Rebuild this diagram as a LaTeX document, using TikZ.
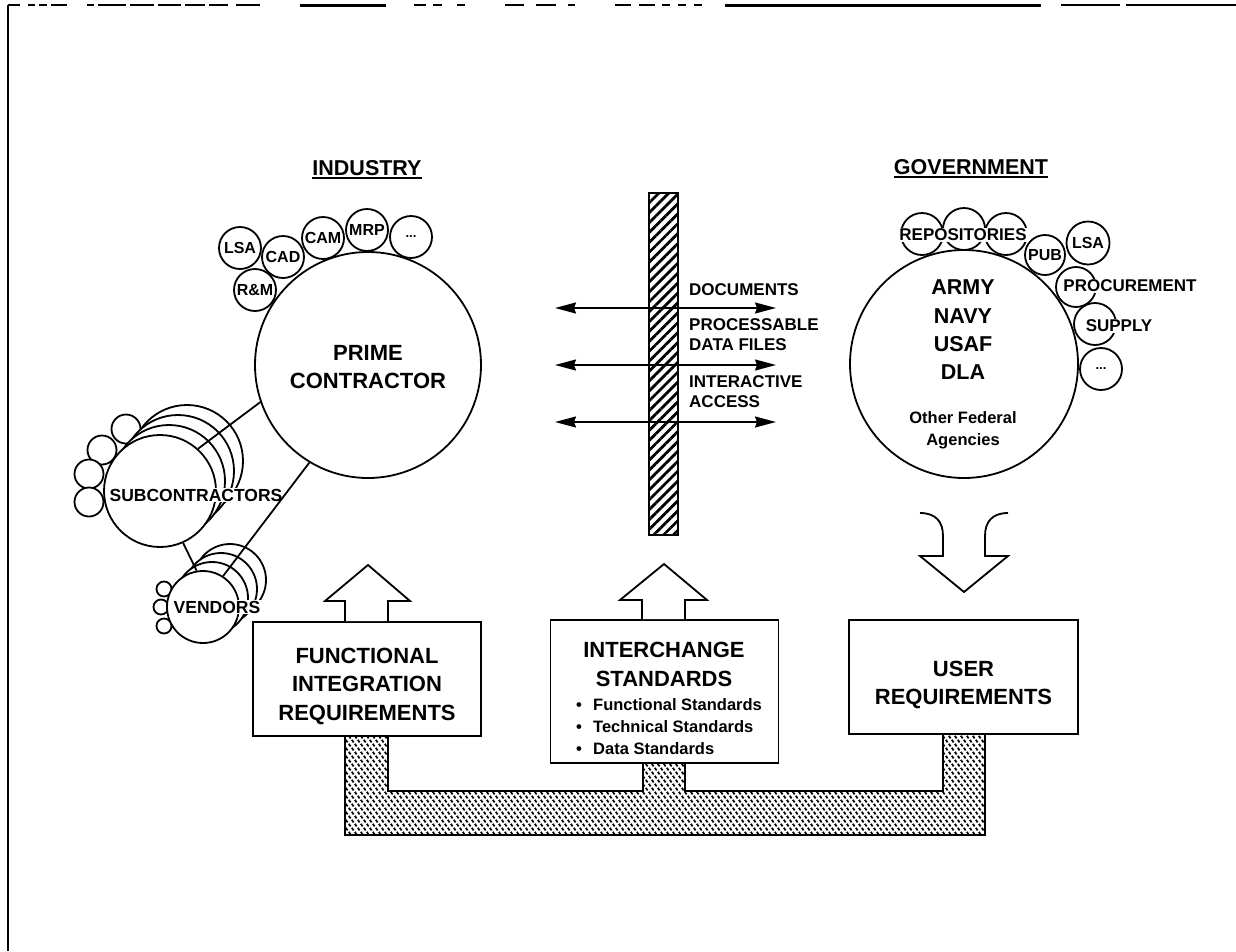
\documentclass[tikz,border=0pt]{standalone}
\usepackage{fontspec}
\setmainfont{Liberation Sans}
\usetikzlibrary{arrows.meta,patterns.meta}
\pgfdeclarepattern{
  name=weave,
  bottom left={\pgfpoint{-1pt}{-1pt}},
  top right={\pgfpoint{7pt}{9pt}},
  tile size={\pgfpoint{6pt}{8pt}},
  code={
    \pgfsetlinewidth{1.7pt}
    \pgfpathmoveto{\pgfpoint{0.8pt}{7.2pt}}
    \pgfpathlineto{\pgfpoint{2.6pt}{4.6pt}}
    \pgfpathmoveto{\pgfpoint{3.8pt}{3.2pt}}
    \pgfpathlineto{\pgfpoint{5.6pt}{0.6pt}}
    \pgfusepath{stroke}
  }
}
\begin{document}
\begin{tikzpicture}[x=1pt,y=-1pt,
  ln/.style={line width=1.8pt,line join=miter},
  circ/.style={circle,draw,line width=1.8pt,fill=white,inner sep=0pt},
  ring/.style={circle,draw,line width=1.8pt,inner sep=0pt},
  box/.style={rectangle,draw,line width=1.8pt,fill=white,inner sep=0pt},
  big/.style={font=\fontsize{22}{28.5}\selectfont\bfseries,inner sep=0pt,align=center},
  lbl/.style={font=\fontsize{17}{20}\selectfont\bfseries,inner sep=0pt},
  sml/.style={font=\fontsize{16}{19}\selectfont\bfseries},
  dots/.style={font=\fontsize{13}{14}\selectfont\bfseries},
  head/.style={font=\fontsize{21.5}{24}\selectfont\bfseries,inner sep=0pt,anchor=base},
  wlbl/.style={lbl,fill=white,inner sep=1pt},
  dbl/.style={line width=1.8pt,{Stealth[length=21pt,width=11pt,inset=2pt]}-{Stealth[length=21pt,width=11pt,inset=2pt]}},
  frame/.style={line width=2.2pt}]
\useasboundingbox (0,0) rectangle (1236,951);

% frame
\draw[frame] (8,5) -- (8,951);
\foreach \a/\b in {8/20,28/35,39/47,51/67,87/94,98/126,130/154,158/181,185/205,209/228,236/260,414/426,433/442,457/465,505/524,536/556,568/575,615/631,639/655,662/670,678/686,694/702,1061/1120,1126/1236}
  \draw[frame] (\a,5) -- (\b,5);
\draw[line width=3pt] (300,5) -- (386,5);
\draw[line width=3pt] (725,5) -- (1041,5);

% headings
\node[head] (ind) at (367,175) {INDUSTRY};
\draw[line width=1.6pt] ([yshift=-3pt]ind.base west) -- ([yshift=-3pt]ind.base east);
\node[head] (gvt) at (971,174) {GOVERNMENT};
\draw[line width=1.6pt] ([yshift=-3pt]gvt.base west) -- ([yshift=-3pt]gvt.base east);

% prime contractor
\node[circ,minimum size=226pt] (prime) at (368,365) {};
\node[big] (primet) at (368,367) {PRIME\\CONTRACTOR};
\node[circ,minimum size=42pt,sml] (lsa) at (240,248) {LSA};
\node[circ,minimum size=42pt,sml] (cad) at (283,257) {CAD};
\node[circ,minimum size=42pt,sml] (rm) at (255,290) {R\&M};
\node[circ,minimum size=42pt,sml] (cam) at (323,238) {CAM};
\node[circ,minimum size=42pt,sml] (mrp) at (367,230) {MRP};
\node[circ,minimum size=42pt,dots] (idots) at (411,237) {...};

% subcontractors
\node[circ,minimum size=29pt] (s1) at (126,429) {};
\node[circ,minimum size=29pt] (s2) at (102,450) {};
\node[circ,minimum size=29pt] (s3) at (89,474) {};
\node[circ,minimum size=29pt] (s4) at (89,502) {};
\node[circ,minimum size=112pt] (sb3) at (187,461) {};
\node[circ,minimum size=112pt] (sb2) at (178,471) {};
\node[circ,minimum size=112pt] (sb1) at (169,481) {};
\node[circ,minimum size=112pt] (sub) at (160,491) {};
\node[wlbl,font=\fontsize{17.5}{20}\selectfont\bfseries] (subt) at (196,495) {SUBCONTRACTORS};

% vendors
\node[circ,minimum size=15pt] (v1) at (164,589) {};
\node[circ,minimum size=15pt] (v2) at (161,607) {};
\node[circ,minimum size=15pt] (v3) at (164,626) {};
\node[circ,minimum size=72pt] (vb3) at (230,580) {};
\node[circ,minimum size=72pt] (vb2) at (221,589) {};
\node[circ,minimum size=72pt] (vb1) at (212,598) {};
\node[circ,minimum size=72pt] (vend) at (203,607) {};
\node[wlbl,font=\fontsize{17.5}{20}\selectfont\bfseries] (vendt) at (217,607) {VENDORS};

% links
\draw[ln] (prime.199) -- (sub.48);
\draw[ln] (prime.239) -- (vend.57);
\draw[ln] (sub.-66) -- (vend.100);

% government
\node[circ,minimum size=228pt] (gov) at (964,364) {};
\node[ring,minimum size=42pt] (r1) at (922,234) {};
\node[ring,minimum size=42pt] (r2) at (964,229) {};
\node[ring,minimum size=42pt] (r3) at (1006,234) {};
\node[wlbl] (rept) at (963,235) {REPOSITORIES};
\node[circ,minimum size=40pt,sml,inner sep=0pt] (pub) at (1045,255) {PUB};
\node[circ,minimum size=43pt,sml,inner sep=0pt] (glsa) at (1088,243) {LSA};
\node[circ,minimum size=40pt] (proc) at (1076,287) {};
\node[wlbl] (proct) at (1130,286) {PROCUREMENT};
\node[circ,minimum size=42pt] (sup) at (1095,324) {};
\node[wlbl] (supt) at (1119,326) {SUPPLY};
\node[circ,minimum size=42pt,dots] (gdots) at (1101,369) {...};
\node[big,font=\fontsize{21.5}{28.3}\selectfont\bfseries] (svc) at (963,330) {ARMY\\NAVY\\USAF\\DLA};
\node[lbl,align=center,font=\fontsize{16.5}{22}\selectfont\bfseries] (ofa) at (963,430) {Other Federal\\Agencies};

% interchange barrier
\node[draw,line width=1.8pt,inner sep=0pt,minimum width=29pt,minimum height=342pt,
  pattern={Lines[angle=45,distance=7pt,line width=2.8pt]}] (bar) at (663.5,364) {};
\coordinate (al1) at (555,308); \coordinate (ar1) at (776,308);
\coordinate (al2) at (555,365); \coordinate (ar2) at (776,365);
\coordinate (al3) at (555,422); \coordinate (ar3) at (776,422);
\draw[dbl] (al1) -- (ar1);
\draw[dbl] (al2) -- (ar2);
\draw[dbl] (al3) -- (ar3);
\node[lbl,anchor=west] (docs) at (689,290) {DOCUMENTS};
\node[lbl,anchor=west,align=left] (pdf) at (689,335) {PROCESSABLE\\DATA FILES};
\node[lbl,anchor=west,align=left] (iac) at (689,392) {INTERACTIVE\\ACCESS};

% pipe
\draw[ln,pattern=weave] (345,736) -- (345,835) -- (985,835) -- (985,734) -- (943,734) -- (943,791)
  -- (685,791) -- (685,763) -- (643,763) -- (643,791) -- (388,791) -- (388,736) -- cycle;

% boxes
\node[box,minimum width=228pt,minimum height=114pt] (fir) at (367,679) {};
\node[big] (firt) at (367,686) {FUNCTIONAL\\INTEGRATION\\REQUIREMENTS};
\node[box,minimum width=228pt,minimum height=143pt] (isb) at (664.5,691.5) {};
\node[big] (isbt) at (664,664.5) {INTERCHANGE\\STANDARDS};
\node[lbl,anchor=west,align=left,font=\fontsize{16.5}{22}\selectfont\bfseries] (isbl) at (576,726.5)
  {\makebox[17pt][l]{\textbullet}Functional Standards\\\makebox[17pt][l]{\textbullet}Technical Standards\\\makebox[17pt][l]{\textbullet}Data Standards};
\node[box,minimum width=229pt,minimum height=114pt] (usr) at (963.5,677) {};
\node[big] (usrt) at (963.5,685) {USER\\REQUIREMENTS};

% hollow arrows
\draw[ln,fill=white] (fir.north -| 345,0) -- (345,601) -- (325,601) -- (368,565) -- (410,601) -- (388,601) -- (fir.north -| 388,0);
\draw[ln,fill=white] (isb.north -| 642,0) -- (642,600) -- (620,600) -- (664,564) -- (707,600) -- (685,600) -- (isb.north -| 685,0);
\draw[ln,fill=white] (920,513) .. controls (936,513) and (943,522) .. (943,536) -- (943,556) -- (920,556)
  -- (964,592) -- (1008,556) -- (985,556) -- (985,536) .. controls (985,522) and (992,513) .. (1008,513);
\end{tikzpicture}
\end{document}
